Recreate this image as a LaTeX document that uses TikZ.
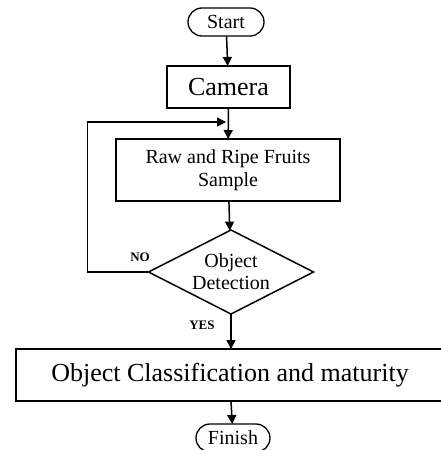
\documentclass[tikz,border=0pt]{standalone}
\usepackage{fontspec}
\setmainfont{Liberation Serif}
\usetikzlibrary{shapes.geometric,shapes.misc,arrows.meta}
\begin{document}
\begin{tikzpicture}[x=1pt,y=-1pt,
  every node/.style={inner sep=0pt, outer sep=0pt},
  flow/.style={line width=1.5pt, -{Triangle[length=9pt,width=9pt]}},
  term/.style={draw, line width=1.3pt, rounded rectangle, minimum height=28pt, font=\fontsize{20}{23}\selectfont},
  procbox/.style={draw, line width=1.5pt, rectangle, align=center},
  decis/.style={draw, line width=1.5pt, diamond, aspect=2, align=center, font=\fontsize{20}{22}\selectfont},
  lbl/.style={font=\bfseries\fontsize{13}{15}\selectfont}
]
\useasboundingbox (0,0) rectangle (441,450);
\clip (0,0) rectangle (441,450);
\node[term, minimum width=76pt] (start) at (226,22) {Start};
\node[procbox, minimum width=123pt, minimum height=42pt, font=\fontsize{26}{30}\selectfont] (camera) at (228.5,87) {Camera};
\node[procbox, minimum width=224pt, minimum height=62pt, font=\fontsize{20}{23}\selectfont] (raw) at (228,170) {Raw and Ripe Fruits\\Sample};
\node[decis, minimum width=165pt, minimum height=84pt] (det) at (231,272) {Object\\Detection};
\node[procbox, minimum width=428pt, minimum height=52pt, font=\fontsize{26}{30}\selectfont] (class) at (230,375) {Object Classification and maturity};
\node[term, minimum width=74pt] (finish) at (233,438) {Finish};
\node[lbl] (no) at (140,257) {NO};
\node[lbl] (yes) at (202,325) {YES};
\coordinate (loopin) at (226,122);
\draw[flow] (start) -- (camera);
\draw[flow] (camera) -- (raw);
\draw[flow] (raw) -- (det);
\draw[flow] (det.south) -- (det.south |- class.north);
\draw[flow] (det.south |- class.south) -- (finish);
\draw[flow] (det.west) -- ++(-61,0) |- (loopin);
\end{tikzpicture}
\end{document}
